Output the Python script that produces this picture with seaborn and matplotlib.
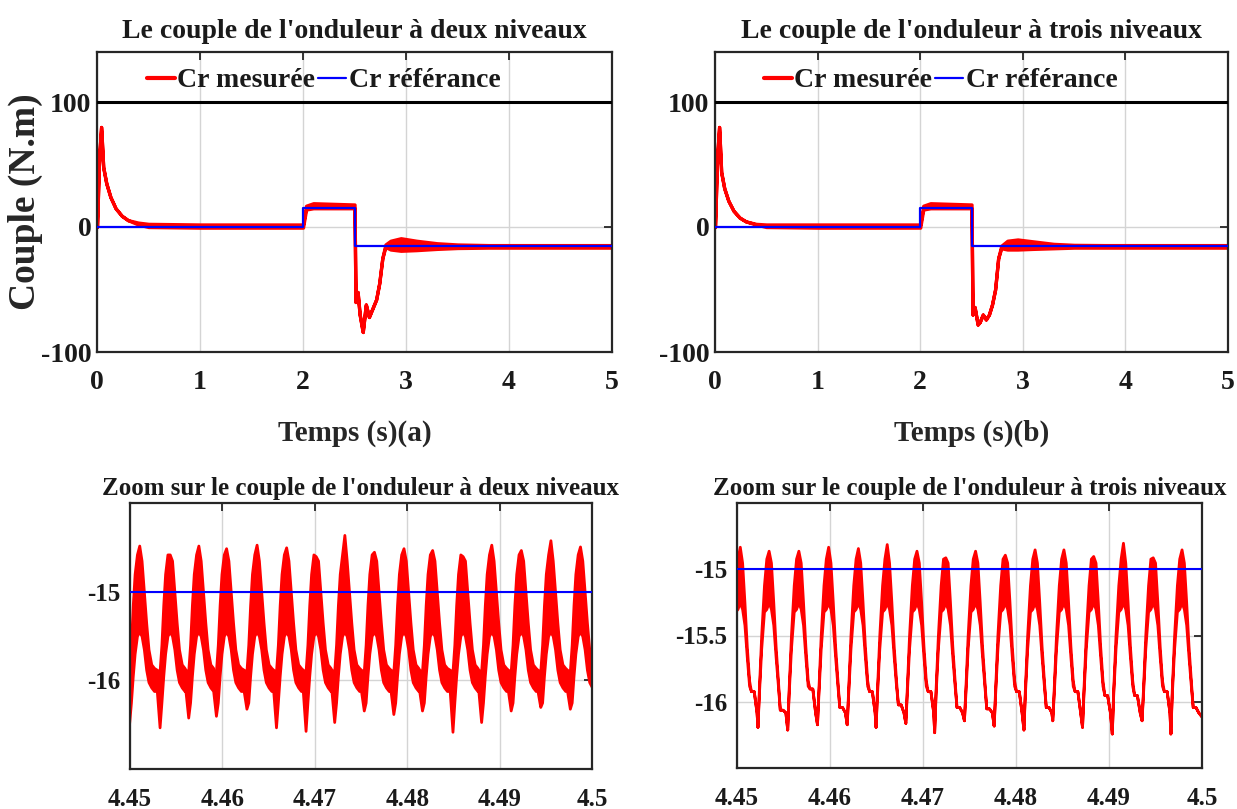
import numpy as np
import pandas as pd
import matplotlib
matplotlib.use("Agg")
import matplotlib.pyplot as plt
from matplotlib.lines import Line2D
import seaborn as sns

# ---------------- data ----------------
# Top plots: measured torque envelopes (upper / lower) vs time
t_a = [0, 0.02, 0.04, 0.06, 0.09, 0.13, 0.18, 0.24, 0.3, 0.4, 0.5, 1.0, 1.5, 2.0, 2.03, 2.1, 2.3, 2.5,
       2.51, 2.53, 2.55, 2.58, 2.61, 2.64, 2.67, 2.71, 2.74, 2.77, 2.8, 2.85, 2.95, 3.1, 3.3, 3.5, 3.8, 4.2, 5.0]
hi_a = [0, 55, 80, 48, 35, 24, 15, 9, 5.5, 3.5, 2.5, 2, 2, 2, 17, 19, 18.5, 18,
        -60, -52, -70, -84, -62, -72, -66, -58, -45, -25, -14, -11, -9, -11, -13, -14, -14.5, -14.5, -14.5]
lo_a = [0, 55, 80, 48, 35, 24, 15, 9, 5.5, 2, 0, -0.5, -0.5, -0.5, 14, 15, 15, 15,
        -60, -52, -70, -84, -62, -72, -66, -58, -45, -25, -16, -18, -19, -18.5, -17.5, -16.8, -16.5, -16.5, -16.5]

t_b = [0, 0.02, 0.04, 0.06, 0.09, 0.13, 0.18, 0.24, 0.3, 0.4, 0.5, 1.0, 1.5, 2.0, 2.03, 2.1, 2.3, 2.5,
       2.51, 2.53, 2.56, 2.58, 2.61, 2.64, 2.67, 2.7, 2.73, 2.76, 2.79, 2.85, 2.95, 3.1, 3.3, 3.5, 3.8, 4.2, 5.0]
hi_b = [0, 55, 80, 44, 31, 21, 13, 7.5, 4.5, 2.5, 2, 2, 2, 2, 17, 19, 18.5, 18,
        -70, -64, -78, -76, -70, -74, -70, -62, -50, -25, -15, -11, -10, -11.5, -13.5, -14.3, -14.5, -14.5, -14.5]
lo_b = [0, 55, 80, 44, 31, 21, 13, 7.5, 4.5, 2, 0, -0.5, -0.5, -0.5, 14, 15, 15, 15,
        -70, -64, -78, -76, -70, -74, -70, -62, -50, -25, -17, -18, -18, -17.5, -17, -16.5, -16.5, -16.5, -16.5]

# reference torque
t_ref = [0, 2, 2, 2.5, 2.5, 5]
c_ref = [0, 0, 15, 15, -15, -15]

# Zoom, two-level inverter: peak times / peak values / minima before each peak
pk_t_a = [4.4510, 4.4543, 4.4574, 4.4604, 4.4637, 4.4669, 4.4701, 4.4732,
          4.4764, 4.4796, 4.4827, 4.4860, 4.4891, 4.4923, 4.4955, 4.4987]
pk_v_a = [-14.48, -14.58, -14.48, -14.51, -14.47, -14.50, -14.60, -14.36,
          -14.55, -14.51, -14.53, -14.60, -14.47, -14.53, -14.42, -14.49]
mn_v_a = [-16.49, -16.53, -16.42, -16.40, -16.32, -16.53, -16.57, -16.47,
          -16.34, -16.38, -16.34, -16.58, -16.47, -16.34, -16.30, -16.32]
# one ripple period shape (offset from peak in s, upper / lower edges of the band)
off_a = [-0.0014, -0.0011, -0.0009, -0.0007, -0.0005, -0.00025, 0, 0.00025, 0.0005, 0.00075, 0.001, 0.0013, 0.0016]
shape_up_a = [-15.88, -15.9, -15.6, -15.15, -14.8, -14.58, None, -14.65, -15.0, -15.35, -15.65, -15.82, -15.86]
shape_lo_a = [-16.12, None, -16.25, -15.95, -15.7, -15.5, -15.45, -15.5, -15.65, -15.88, -16.02, -16.08, -16.12]

# Zoom, three-level inverter
pk_t_b = [4.4503, 4.4534, 4.4566, 4.4598, 4.4630, 4.4661, 4.4693, 4.4724,
          4.4756, 4.4788, 4.4820, 4.4851, 4.4883, 4.4915, 4.4947, 4.4978]
pk_v_b = [-14.83, -14.86, -14.86, -14.83, -14.84, -14.81, -14.86, -14.91,
          -14.86, -14.89, -14.85, -14.85, -14.90, -14.80, -14.91, -14.85]
mn_v_b = [-16.15, -16.19, -16.21, -16.17, -16.17, -16.19, -16.16, -16.23,
          -16.14, -16.18, -16.21, -16.14, -16.19, -16.24, -16.14, -16.24]
sh_v_b = [-15.92, -16.06, -15.90, -16.04, -15.92, -16.02, -15.92, -16.04,
          -16.05, -15.92, -16.04, -15.92, -15.95, -15.95, -15.92, -16.04]
end_t_b, end_v_b = 4.5005, -16.16
off_b = [-0.0012, -0.00105, -0.0008, -0.0005, -0.00025, 0, 0.00025, 0.0005, 0.00075, 0.001, 0.0012, 0.0015, 0.0018]
shape_up_b = ['M', -15.91, -15.5, -15.12, -14.92, 'P', -14.95, -15.25, -15.58, -15.84, 'S', 'S', -16.08]
shape_lo_b = ['M', -15.95, -15.6, -15.32, -15.3, -15.25, -15.3, -15.42, -15.66, -15.88, 'S', 'S', -16.08]

t_zoom_ref = [4.45, 4.5]
c_zoom_ref = [-15, -15]

titles = ["Le couple de l'onduleur à deux niveaux", "Le couple de l'onduleur à trois niveaux"]
zoom_titles = ["Zoom sur le couple de l'onduleur à deux niveaux",
               "Zoom sur le couple de l'onduleur à trois niveaux"]
xlabels = ["Temps (s)(a)", "Temps (s)(b)"]
zoom_xticks = [4.45, 4.46, 4.47, 4.48, 4.49, 4.5]
zoom_xticklabels = ["4.45", "4.46", "4.47", "4.48", "4.49", "4.5"]


# ---------------- build band tables ----------------
def band_a():
    rows = []
    for tp, P, M in zip(pk_t_a, pk_v_a, mn_v_a):
        for o, u, l in zip(off_a, shape_up_a, shape_lo_a):
            rows.append((tp + o, P if u is None else u, M if l is None else l))
    return pd.DataFrame(rows, columns=["t", "up", "lo"]).sort_values("t")


def band_b():
    rows = []
    for tp, P, M, S in zip(pk_t_b, pk_v_b, mn_v_b, sh_v_b):
        sub = {"P": P, "M": M, "S": S}
        for o, u, l in zip(off_b, shape_up_b, shape_lo_b):
            uu = sub[u] if isinstance(u, str) else u
            ll = sub[l] if isinstance(l, str) else l
            rows.append((tp + o, uu, ll))
    rows.append((end_t_b, end_v_b, end_v_b))
    return pd.DataFrame(rows, columns=["t", "up", "lo"]).sort_values("t")


# ---------------- style ----------------
sns.set_theme(style="white")
plt.rcParams.update({
    "font.family": ["Liberation Serif", "DejaVu Serif"],
    "font.weight": "bold",
    "axes.labelweight": "bold",
    "axes.titleweight": "bold",
    "axes.unicode_minus": False,
    "text.color": "#1a1a1a",
})

RED = "#ff0000"
BLUE = "#0000ff"


def style(ax, tick_fs, xpad, ypad):
    for s in ax.spines.values():
        s.set_color("#262626")
        s.set_linewidth(1.6)
    ax.tick_params(direction="in", top=True, right=True, length=6, width=1.3,
                   colors="#262626", labelcolor="#1a1a1a", labelsize=tick_fs)
    ax.tick_params(axis="x", pad=xpad)
    ax.tick_params(axis="y", pad=ypad)
    for lab in ax.get_xticklabels() + ax.get_yticklabels():
        lab.set_fontweight("bold")
    ax.grid(True, color="#d4d4d4", lw=1.0)
    ax.set_axisbelow(True)


fig = plt.figure(figsize=(12.37, 8.09), dpi=100)
W, H = 1237.0, 809.0


def box(x0, x1, y0, y1):
    return [x0 / W, 1 - y1 / H, (x1 - x0) / W, (y1 - y0) / H]


ax_tl = fig.add_axes(box(97, 612, 52, 352))
ax_tr = fig.add_axes(box(715, 1228, 52, 352))
ax_bl = fig.add_axes(box(130, 592, 503, 769))
ax_br = fig.add_axes(box(737, 1202, 503, 768))

# ---- top plots ----
for ax, t, hi, lo, title, xl in [(ax_tl, t_a, hi_a, lo_a, titles[0], xlabels[0]),
                                 (ax_tr, t_b, hi_b, lo_b, titles[1], xlabels[1])]:
    ax.fill_between(t, lo, hi, color=RED, edgecolor=RED, lw=2.4, zorder=2)
    sns.lineplot(x=t_ref, y=c_ref, color=BLUE, lw=1.6, estimator=None, sort=False, ax=ax, zorder=3)
    ax.axhline(100, color="black", lw=2.2, zorder=4)
    ax.set_xlim(0, 5)
    ax.set_ylim(-100, 140)
    ax.set_xticks([0, 1, 2, 3, 4, 5])
    ax.set_yticks([-100, 0, 100])
    ax.set_xticklabels(["0", "1", "2", "3", "4", "5"])
    ax.set_yticklabels(["-100", "0", "100"])
    style(ax, 20, 13, 4)
    ax.set_title(title, fontsize=20, fontweight="bold", pad=10)
    ax.set_xlabel(xl, fontsize=21, fontweight="bold", labelpad=18)
    ax.set_ylabel("")
    handles = [Line2D([], [], color=RED, lw=3), Line2D([], [], color=BLUE, lw=1.6)]
    ax.legend(handles, ["Cr mesurée", "Cr référance"], ncol=2, frameon=False,
              loc="center", bbox_to_anchor=(0.44, 0.905),
              handlelength=1.0, handletextpad=0.1, columnspacing=0.1,
              prop={"weight": "bold", "size": 20})

ax_tl.set_ylabel("Couple (N.m)", fontsize=27, fontweight="bold")
ax_tl.yaxis.set_label_coords(-0.105, 0.5)

# ---- zoom plots ----
dfa = band_a()
dfb = band_b()
for ax, df, title, ylim, yt, ytl in [
        (ax_bl, dfa, zoom_titles[0], (-17, -14), [-16, -15], ["-16", "-15"]),
        (ax_br, dfb, zoom_titles[1], (-16.5, -14.5), [-16, -15.5, -15], ["-16", "-15.5", "-15"])]:
    ax.fill_between(df["t"], df["lo"], df["up"], color=RED, edgecolor=RED, lw=2.0, zorder=2)
    sns.lineplot(x=t_zoom_ref, y=c_zoom_ref, color=BLUE, lw=1.5, estimator=None, ax=ax, zorder=3)
    ax.set_xlim(4.45, 4.5)
    ax.set_ylim(*ylim)
    ax.set_xticks(zoom_xticks)
    ax.set_xticklabels(zoom_xticklabels)
    ax.set_yticks(yt)
    ax.set_yticklabels(ytl)
    style(ax, 18, 14, 7)
    ax.set_title(title, fontsize=18, fontweight="bold", pad=6)
    ax.set_xlabel("")
    ax.set_ylabel("")

fig.savefig("out.png", dpi=100)
